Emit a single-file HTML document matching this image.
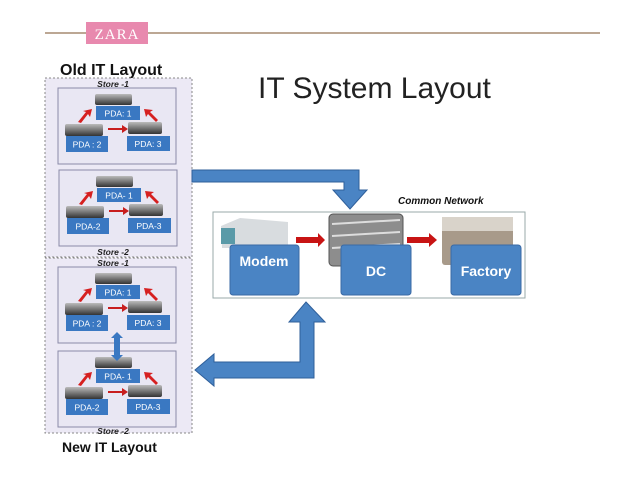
<!DOCTYPE html>
<html><head><style>body{margin:0;background:#fff}svg{display:block}</style></head><body>
<svg width="638" height="479" viewBox="0 0 638 479" xmlns="http://www.w3.org/2000/svg" font-family="Liberation Sans, sans-serif">
<defs>
<linearGradient id="dev" x1="0" y1="0" x2="0" y2="1"><stop offset="0" stop-color="#bbb"/><stop offset="0.5" stop-color="#777"/><stop offset="1" stop-color="#333"/></linearGradient>
<g id="base">
  <rect x="0" y="0" width="118" height="76" fill="#e9e7f3" stroke="#8a8aa8" stroke-width="1"/>
  <rect x="37" y="6" width="37" height="11" rx="2" fill="url(#dev)"/>
  <rect x="38" y="18" width="44" height="14" fill="#3a78c2"/>
  <rect x="7" y="36" width="38" height="12" rx="2" fill="url(#dev)"/>
  <rect x="8" y="48" width="42" height="16" fill="#3a78c2"/>
  <rect x="70" y="34" width="34" height="12" rx="2" fill="url(#dev)"/>
  <rect x="69" y="48" width="43" height="15" fill="#3a78c2"/>
  <path d="M50 40 L64 40 L64 37 L70 41 L64 45 L64 42 L50 42Z" fill="#c81e1e"/>
  <path d="M20 34 L28 24 L25 23 L34 21 L32 29 L30 26 L23 35Z" fill="#d62020"/>
  <path d="M98 34 L90 26 L88 29 L86 21 L95 22 L92 24 L100 32Z" fill="#d62020"/>
</g>
<g id="store1">
  <use href="#base"/>
  <g font-size="8.5" fill="#fff" text-anchor="middle">
  <text x="60" y="28.5">PDA: 1</text><text x="29" y="59.5">PDA : 2</text><text x="90" y="59">PDA: 3</text></g>
</g>
<g id="store2">
  <use href="#base"/>
  <g font-size="8.5" fill="#fff" text-anchor="middle">
  <text x="60" y="28.5">PDA- 1</text><text x="29" y="59.5">PDA-2</text><text x="90" y="59">PDA-3</text></g>
</g>
</defs>
<line x1="45" y1="33" x2="600" y2="33" stroke="#a58a70" stroke-width="1.5"/>
<rect x="86" y="22" width="62" height="22" fill="#e889ae"/>
<text x="117" y="39" font-family="Liberation Serif, serif" font-size="15" fill="#fff" text-anchor="middle" letter-spacing="1">ZARA</text>
<text x="60" y="75" font-size="16" font-weight="bold" fill="#111">Old IT Layout</text>
<text x="258" y="98" font-size="30" fill="#222">IT System Layout</text>
<rect x="45" y="78" width="147" height="179" fill="#ece9f5" stroke="#888" stroke-dasharray="2,2"/>
<rect x="45" y="258" width="147" height="175" fill="#ece9f5" stroke="#888" stroke-dasharray="2,2"/>
<g font-size="8.5" font-style="italic" font-weight="bold" fill="#222" text-anchor="middle">
<text x="113" y="87">Store -1</text><text x="113" y="255">Store -2</text>
<text x="113" y="266">Store -1</text><text x="113" y="434">Store -2</text></g>
<use href="#store1" x="58" y="88"/>
<use href="#store2" x="59" y="170"/>
<use href="#store1" x="58" y="267"/>
<use href="#store2" x="58" y="351"/>
<path d="M117 332 L123 338 L120 338 L120 355 L123 355 L117 361 L111 355 L114 355 L114 338 L111 338Z" fill="#3a78c2"/>
<text x="62" y="452" font-size="14" font-weight="bold" fill="#111">New IT Layout</text>
<path d="M192 170 L359 170 L359 190 L367 190 L350 209 L333 190 L344 190 L344 182 L192 182Z" fill="#4a84c4" stroke="#2f5f9a" stroke-width="1"/>
<path d="M306 302 L325 322 L314 322 L314 378 L214 378 L214 386 L195 370 L214 354 L214 362 L300 362 L300 322 L289 322Z" fill="#4a84c4" stroke="#2f5f9a" stroke-width="1"/>
<text x="398" y="204" font-size="10" font-style="italic" font-weight="bold" fill="#111">Common Network</text>
<rect x="213" y="212" width="312" height="86" fill="#fff" stroke="#9aa" stroke-width="1"/>
<path d="M221 226 L240 218 L288 222 L288 248 L222 248Z" fill="#d8dcdf"/>
<rect x="221" y="228" width="14" height="16" fill="#5a9aa8"/>
<rect x="329" y="214" width="74" height="52" rx="4" fill="#8d8d8d" stroke="#555"/>
<g stroke="#ddd" stroke-width="2"><line x1="332" y1="224" x2="400" y2="220"/><line x1="332" y1="236" x2="400" y2="232"/><line x1="332" y1="248" x2="400" y2="244"/></g>
<rect x="442" y="217" width="71" height="48" rx="3" fill="#a89a8a"/>
<rect x="442" y="217" width="71" height="14" fill="#d9d3ca"/>
<path d="M296 237 L318 237 L318 233 L325 240 L318 247 L318 243 L296 243Z" fill="#c81414"/>
<path d="M407 237 L429 237 L429 233 L437 240 L429 247 L429 243 L407 243Z" fill="#c81414"/>
<rect x="230" y="245" width="69" height="50" rx="3" fill="#4a84c4" stroke="#3a6aa5"/>
<rect x="341" y="245" width="70" height="50" rx="3" fill="#4a84c4" stroke="#3a6aa5"/>
<rect x="451" y="245" width="70" height="50" rx="3" fill="#4a84c4" stroke="#3a6aa5"/>
<g font-size="14" font-weight="bold" fill="#fff" text-anchor="middle">
<text x="264" y="266">Modem</text><text x="376" y="276">DC</text><text x="486" y="276">Factory</text></g>
</svg>
</body></html>
